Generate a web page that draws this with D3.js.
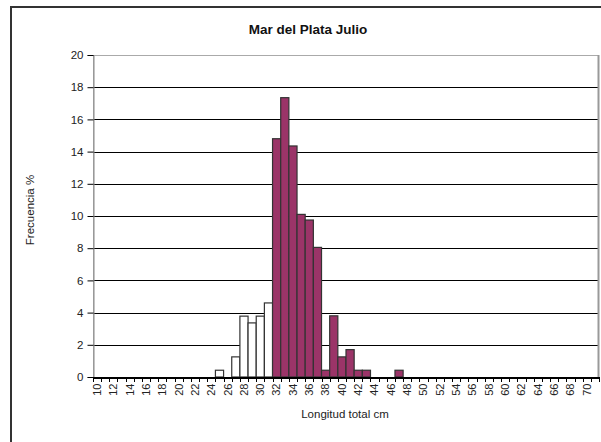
<!DOCTYPE html>
<html><head><meta charset="utf-8">
<script src="https://cdn.jsdelivr.net/npm/d3@7"></script>
<style>body{margin:0;background:#fff}svg{display:block}text{font-family:"Liberation Sans",Arial,sans-serif}</style>
</head><body><svg id="c" width="601" height="442"></svg>
<script>
const categories = d3.range(10, 72);
const juvenileLengths = [25, 27, 28, 29, 30, 31];
const juvenileValues = [0.42, 1.25, 3.78, 3.36, 3.78, 4.6];
const adultLengths = [32, 33, 34, 35, 36, 37, 38, 39, 40, 41, 42, 43, 47];
const adultValues = [14.8, 17.35, 14.35, 10.1, 9.75, 8.05, 0.42, 3.8, 1.25, 1.7, 0.42, 0.42, 0.42];
const yTicks = [0, 2, 4, 6, 8, 10, 12, 14, 16, 18, 20];
const title = "Mar del Plata Julio";
const xTitle = "Longitud total cm";
const yTitle = "Frecuencia %";

const svg = d3.select("#c");
svg.append("rect").attr("x", 11).attr("y", 7).attr("width", 610).attr("height", 460)
  .attr("fill", "#fff").attr("stroke", "#333").attr("stroke-width", 2);

const L = 93, R = 599, T = 55, B = 377;
const x = d3.scaleBand().domain(categories).range([L, R]).padding(0);
const y = d3.scaleLinear().domain([0, 20]).range([B, T]);

// gridlines
svg.append("g").selectAll("line").data(yTicks.filter(d => d > 0 && d < 20)).join("line")
  .attr("x1", L).attr("x2", R).attr("y1", d => Math.round(y(d)) + 0.5).attr("y2", d => Math.round(y(d)) + 0.5)
  .attr("stroke", "#000").attr("stroke-width", 1);
// plot border
svg.append("rect").attr("x", L + 0.5).attr("y", T + 0.5).attr("width", R - L - 1).attr("height", B - T)
  .attr("fill", "none").attr("stroke", "#aaa").attr("stroke-width", 1);
svg.append("line").attr("x1", R - 0.5).attr("x2", R - 0.5).attr("y1", T).attr("y2", B)
  .attr("stroke", "#999").attr("stroke-width", 2);

const data = juvenileLengths.map((k, i) => ({k, v: juvenileValues[i], adult: false}))
  .concat(adultLengths.map((k, i) => ({k, v: adultValues[i], adult: true})));
svg.append("g").selectAll("rect").data(data).join("rect")
  .attr("x", d => x(d.k)).attr("width", x.bandwidth())
  .attr("y", d => y(d.v)).attr("height", d => B - y(d.v))
  .attr("fill", d => d.adult ? "#9b3468" : "#fff")
  .attr("stroke", "#333").attr("stroke-width", 1.2);

// y axis
const ya = svg.append("g").attr("transform", `translate(${L + 0.5},0)`)
  .call(d3.axisLeft(y).tickValues(yTicks).tickSize(6).tickPadding(4).tickFormat(d3.format("d")));
ya.select(".domain").attr("stroke", "#888");
ya.selectAll("line").attr("stroke", "#000");
ya.selectAll("text").attr("font-size", 11.5).attr("fill", "#222")
  .style("font-family", '"Liberation Sans",Arial,sans-serif');

// x axis
const xa = svg.append("g").attr("transform", `translate(0,${B + 0.5})`)
  .call(d3.axisBottom(x).tickValues(categories.filter(d => d % 2 === 0)).tickSize(0).tickPadding(0));
xa.select(".domain").attr("stroke", "#000").attr("stroke-width", 2);
xa.selectAll(".tick text").attr("font-size", 11).attr("fill", "#222")
  .attr("transform", "rotate(-90)").attr("text-anchor", "end")
  .attr("x", -6).attr("y", 0).attr("dy", "0.35em")
  .style("font-family", '"Liberation Sans",Arial,sans-serif');
// boundary tick marks
svg.append("g").selectAll("line").data(categories.concat([72])).join("line")
  .attr("x1", d => Math.round(d === 72 ? R : x(d)) + 0.5).attr("x2", d => Math.round(d === 72 ? R : x(d)) + 0.5)
  .attr("y1", B).attr("y2", B + 5).attr("stroke", "#000");

svg.append("text").attr("x", 308).attr("y", 34).attr("text-anchor", "middle")
  .attr("font-size", 13.5).attr("font-weight", "bold").attr("fill", "#111").text(title);
svg.append("text").attr("x", 345).attr("y", 418).attr("text-anchor", "middle")
  .attr("font-size", 11.5).attr("fill", "#222").text(xTitle);
svg.append("text").attr("transform", "translate(34,210) rotate(-90)").attr("text-anchor", "middle")
  .attr("font-size", 11.5).attr("fill", "#222").text(yTitle);
</script></body></html>
